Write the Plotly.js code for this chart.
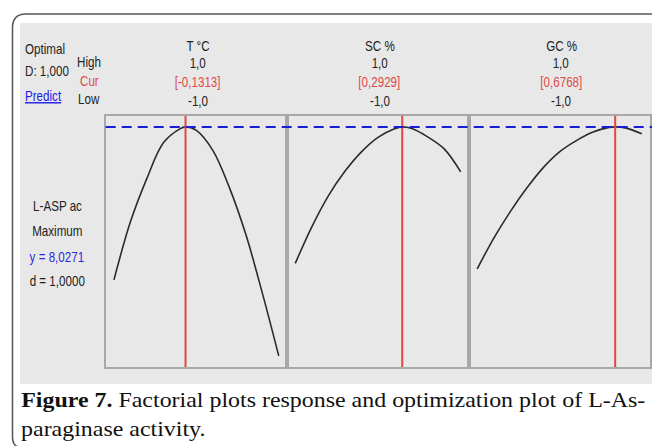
<!DOCTYPE html>
<html>
<head>
<meta charset="utf-8">
<script src="https://cdn.plot.ly/plotly-3.0.1.min.js"></script>
<style>html,body{margin:0;padding:0;background:#fff;}#chart{width:652px;height:446px;}</style>
</head>
<body>
<div id="chart"></div>
<script>
// ---- data ----
const factorNames = ["T °C", "SC %", "GC %"];
const highLabels = ["1,0", "1,0", "1,0"];
const lowLabels = ["-1,0", "-1,0", "-1,0"];
const curValues = [-0.1313, 0.2929, 0.6768];
const curLabels = ["[-0,1313]", "[0,2929]", "[0,6768]"];
const responseName = "L-ASP ac";
const goalName = "Maximum";
const yOpt = 8.0271;
const yOptLabel = "y = 8,0271";
const dLabel = "d = 1,0000";
const compositeD = "D: 1,000";

const xT  = [-1, -0.8, -0.6, -0.4, -0.2, -0.1313, 0, 0.2, 0.4, 0.6, 0.8, 1];
const yT  = [4.97, 6.13, 7.00, 7.71, 7.99, 8.03, 7.96, 7.56, 6.82, 5.88, 4.71, 3.45];
const xSC = [-1, -0.8, -0.6, -0.4, -0.2, 0, 0.2, 0.2929, 0.4, 0.6, 0.8, 1];
const ySC = [5.30, 6.03, 6.65, 7.14, 7.53, 7.82, 7.99, 8.03, 8.00, 7.83, 7.59, 7.13];
const xGC = [-1, -0.8, -0.6, -0.4, -0.2, 0, 0.2, 0.4, 0.6, 0.6768, 0.8, 1];
const yGC = [5.19, 5.80, 6.33, 6.80, 7.21, 7.53, 7.75, 7.92, 8.02, 8.03, 8.01, 7.89];

const captionBold = "Figure 7.";
const captionLine1 = " Factorial plots response and optimization plot of L-As-";
const captionLine2 = "paraginase activity.";

// ---- layout helpers ----
const W = 652, H = 446;
const px = v => v / W;
const py = v => 1 - v / H;
const panelEdges = [105.7, 287, 469, 650];
const plotTop = 115.7, plotBottom = 367;
const xRange = [-1.1, 1.1];
const yRange = [3.227, 8.253];

const sans = "Liberation Sans Narrow, Liberation Sans, Arial, sans-serif";
const serif = "Liberation Serif, Times New Roman, serif";
const txtCol = "#222222";
const redCol = "#e04848";
const blueCol = "#2a2ae0";
const narrowX = 0.83;
const captionX = 1.14;

const xs = [xT, xSC, xGC];
const ys = [yT, ySC, yGC];

const traces = xs.map((x, i) => ({
  x: x, y: ys[i], type: "scatter", mode: "lines",
  line: {color: "#2b2b2b", width: 1.6, shape: "spline"},
  xaxis: i === 0 ? "x" : "x" + (i + 1),
  yaxis: i === 0 ? "y" : "y" + (i + 1),
  hoverinfo: "skip", showlegend: false
}));

const layout = {
  width: W, height: H,
  margin: {l: 0, r: 0, t: 0, b: 0},
  paper_bgcolor: "#ffffff",
  plot_bgcolor: "#ffffff",
  showlegend: false,
  shapes: [],
  annotations: []
};
const annStretch = [];   // horizontal stretch per annotation (font look)

function addText(t, x, y, color, anchor, font, size, stretch) {
  layout.annotations.push({
    xref: "paper", yref: "paper", x: px(x), y: py(y),
    xanchor: anchor, yanchor: "middle", showarrow: false,
    text: t, font: {family: font, size: size, color: color}
  });
  annStretch.push({s: stretch, a: anchor});
}

for (let i = 0; i < 3; i++) {
  const s = i === 0 ? "" : String(i + 1);
  layout["xaxis" + s] = {
    domain: [px(panelEdges[i]), px(panelEdges[i + 1])],
    range: xRange, anchor: "y" + s,
    showline: true, mirror: true, linecolor: "#a8a8a8", linewidth: 2,
    showgrid: false, zeroline: false, showticklabels: false, ticks: "", fixedrange: true
  };
  layout["yaxis" + s] = {
    domain: [py(plotBottom), py(plotTop)],
    range: yRange, anchor: "x" + s,
    showline: true, mirror: true, linecolor: "#a8a8a8", linewidth: 2,
    showgrid: false, zeroline: false, showticklabels: false, ticks: "", fixedrange: true
  };
  layout.shapes.push({
    type: "line", xref: "x" + s, yref: "y" + s + " domain",
    x0: curValues[i], x1: curValues[i], y0: 0, y1: 1,
    line: {color: redCol, width: 2}, layer: "above"
  });
  const cx = (panelEdges[i] + panelEdges[i + 1]) / 2 + 1.5;
  addText(factorNames[i], cx, 45.5, txtCol, "center", sans, 14, narrowX);
  addText(highLabels[i], cx, 63, txtCol, "center", sans, 14, narrowX);
  addText(curLabels[i], cx, 81.5, redCol, "center", sans, 14, narrowX);
  addText(lowLabels[i], cx, 100.5, txtCol, "center", sans, 14, narrowX);
}

// gray panel background
layout.shapes.unshift({
  type: "rect", xref: "paper", yref: "paper",
  x0: px(20), x1: 1, y0: py(384), y1: py(23),
  fillcolor: "#e8e8e8", line: {width: 0}, layer: "below"
});
// rounded outer border
layout.shapes.unshift({
  type: "path", xref: "paper", yref: "paper", layer: "below",
  path: `M 1,${py(14)} L ${px(26)},${py(14)} Q ${px(12.5)},${py(14)} ${px(12.5)},${py(28)} L ${px(12.5)},${py(437)} Q ${px(12.5)},${py(446)} ${px(19)},${py(447)}`,
  line: {color: "#555555", width: 1.5}
});
// blue dashed optimum line
layout.shapes.push({
  type: "line", xref: "paper", yref: "y",
  x0: px(panelEdges[0]), x1: 1, y0: yOpt, y1: yOpt,
  line: {color: "#1c1cd8", width: 2.2, dash: "10px,6px"}, layer: "above"
});

addText("Optimal", 22.5, 48.5, txtCol, "left", sans, 14, narrowX);
addText(compositeD, 22.5, 71, txtCol, "left", sans, 14, narrowX);
addText("<u>Predict</u>", 22.5, 96, "#1a1ae8", "left", sans, 14, narrowX);
addText("High", 75, 62, txtCol, "left", sans, 14, narrowX);
addText("Cur", 78, 81, redCol, "left", sans, 14, narrowX);
addText("Low", 76, 98.5, txtCol, "left", sans, 14, narrowX);
addText(responseName, 57.5, 206, txtCol, "center", sans, 14, narrowX);
addText(goalName, 57, 231, txtCol, "center", sans, 14, narrowX);
addText(yOptLabel, 56.5, 257, blueCol, "center", sans, 14, narrowX);
addText(dLabel, 57.5, 281, txtCol, "center", sans, 14, narrowX);

// caption
addText("<b>" + captionBold + "</b>" + captionLine1, 19, 400, "#111111", "left", serif, 21, captionX);
addText(captionLine2, 19, 429, "#111111", "left", serif, 21, captionX);

Plotly.newPlot("chart", traces, layout, {displayModeBar: false, staticPlot: true}).then(gd => {
  gd.querySelectorAll("g.annotation").forEach(g => {
    const idx = +g.getAttribute("data-index");
    const info = annStretch[idx];
    const t = g.querySelector("text.annotation-text");
    if (!info || !t) return;
    t.style.transformBox = "fill-box";
    t.style.transformOrigin = info.a === "left" ? "left center" : "center center";
    t.style.transform = "scaleX(" + info.s + ")";
  });
});
</script>
</body>
</html>
